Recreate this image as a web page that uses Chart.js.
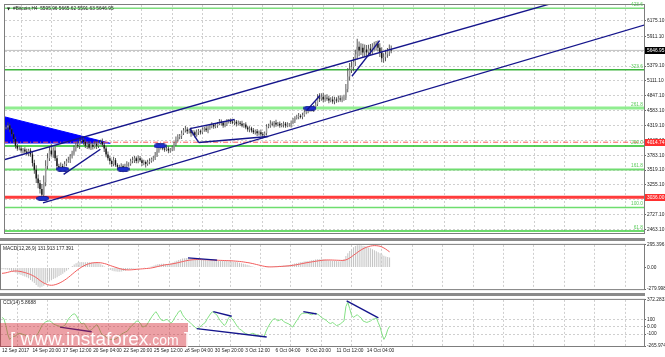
<!DOCTYPE html>
<html><head><meta charset="utf-8"><title>#Bitcoin,H4</title>
<script src="https://cdn.jsdelivr.net/npm/chart.js@4.4.1/dist/chart.umd.min.js"></script>
<style>
html,body{margin:0;padding:0;background:#fff;}
body{position:relative;width:665px;height:357px;overflow:hidden;font-family:"Liberation Sans",Arial,sans-serif;}
canvas{position:absolute;left:0;display:block;}
#cA{top:0}#cB{top:241px}#cC{top:296px}
.sep{position:absolute;left:0;width:645px;height:3px;background:#8a8a8a;}
#wm{position:absolute;left:0;top:323px;width:188px;height:24px;background:rgba(212,45,55,0.45);}
#wmt{position:absolute;left:10px;top:329px;color:rgba(255,255,255,0.95);font-size:19px;line-height:19px;white-space:nowrap;}
</style></head>
<body>
<canvas id="cA" width="665" height="238"></canvas>
<div class="sep" style="top:238px"></div>
<canvas id="cB" width="665" height="52"></canvas>
<div class="sep" style="top:293px"></div>
<canvas id="cC" width="665" height="61"></canvas>
<div id="wm"></div>
<div id="wmt">[ www.instaforex<span style="font-size:14px">.com</span> ]</div>
<script>
// ---------- DATA ----------
const headerText = '#Bitcoin,H4  5595.96 5665.62 5591.63 5646.95';
const macdTitle = 'MACD(12,26,9) 131.913 177.391';
const cciTitle = 'CCI(14) 5.8688';
const xLabels = ['12 Sep 2017','14 Sep 20:00','17 Sep 12:00','20 Sep 04:00','22 Sep 20:00','25 Sep 12:00','28 Sep 04:00','30 Sep 20:00','3 Oct 12:00','6 Oct 04:00','8 Oct 20:00','11 Oct 12:00','14 Oct 04:00'];
const xTickIdx = [0,16,32,48,64,80,96,112,128,144,160,176,192,208,224,240,256,272,288,304,320,336];
const priceTicks = [2463.1,2727.1,2991.1,3255.1,3519.1,3783.1,4047.1,4311.1,4575.1,4839.1,5103.1,5367.1,5631.1,5895.1,6175.1];
const priceTickLabels = ['2463.10','2727.10','2991.10','3255.10','3519.10','3783.10','4047.10','4319.10','4583.10','4847.10','5111.10','5379.10','5646.95','5911.10','6175.10'];
const firstOpen = 4260;
const closes = [
4277,4311,4243,4157,4072,3952,3901,3901,3867,3884,
3850,3815,3867,3798,3644,3525,3371,3285,3183,3080,
3302,3593,3730,3867,3798,3867,3730,3593,3559,3593,
3559,3627,3679,3696,3764,3815,3901,3969,3952,4038,
4055,4020,3952,3986,3918,3969,3935,3986,3952,4003,
4020,3969,3901,3798,3730,3679,3627,3696,3610,3576,
3559,3593,3542,3593,3627,3627,3679,3696,3730,3679,
3730,3696,3644,3662,3627,3662,3679,3713,3730,3781,
3867,3935,3935,3901,3884,3901,3867,3884,3901,3986,
4055,4106,4123,4174,4226,4243,4209,4226,4174,4192,
4140,4192,4209,4192,4243,4260,4226,4277,4294,4328,
4294,4311,4345,4379,4362,4311,4345,4379,4396,4379,
4362,4379,4345,4362,4345,4311,4328,4277,4243,4260,
4226,4192,4209,4174,4192,4157,4140,4174,4294,4311,
4345,4328,4362,4328,4345,4311,4328,4345,4311,4328,
4328,4362,4396,4448,4465,4482,4465,4499,4551,4568,
4585,4619,4602,4636,4687,4807,4790,4824,4773,4807,
4790,4756,4773,4739,4773,4756,4790,4773,4790,4807,
4961,5183,5303,5354,5440,5577,5713,5645,5696,5611,
5662,5611,5679,5645,5713,5730,5765,5696,5611,5508,
5525,5577,5628,5662,5647];
const wickUp = [
40,60,30,20,30,40,30,50,40,30,
40,50,30,40,50,60,80,70,60,90,
120,100,90,80,110,60,70,50,40,60,
40,50,40,60,40,50,60,40,70,50,
60,40,50,30,50,40,30,60,40,50,
40,60,30,40,50,40,30,60,40,30,
40,50,30,40,50,30,40,60,40,30,
50,40,30,40,30,40,50,30,40,60,
50,60,40,30,40,30,40,30,50,40,
60,50,40,50,40,60,40,30,50,40,
30,50,40,30,40,30,50,40,30,40,
30,40,30,50,40,30,40,50,30,40,
30,40,30,40,30,50,30,40,30,40,
30,40,30,40,30,50,40,30,40,30,
60,40,30,50,30,40,30,40,30,40,
30,40,50,30,40,50,30,40,50,40,
50,40,30,40,50,60,80,60,70,50,
60,50,40,60,50,40,50,60,40,50,
90,150,120,100,90,80,140,90,80,70,
90,80,70,80,60,70,50,60,80,90,
70,80,60,90,70];
const wickDn = [
30,40,50,40,60,50,40,30,40,50,
40,30,50,40,60,70,80,90,80,110,
80,70,60,50,40,60,50,70,40,50,
40,60,40,30,50,40,30,50,40,60,
40,50,40,60,30,40,50,30,60,40,
30,40,60,50,40,60,50,40,30,40,
50,40,60,30,40,50,30,40,50,40,
40,30,50,40,60,30,40,30,40,30,
30,40,50,30,40,30,50,40,30,40,
40,30,40,50,30,40,50,40,60,40,
40,30,50,40,30,40,30,50,40,30,
40,30,40,30,50,40,30,40,30,40,
30,40,50,30,40,30,40,30,40,50,
40,30,40,50,40,30,60,50,40,30,
40,30,50,40,30,40,30,50,40,30,
40,50,30,40,30,40,30,40,30,40,
40,30,40,50,40,30,60,40,50,40,
40,50,30,40,50,40,30,40,50,40,
40,60,70,60,80,70,90,100,80,90,
80,90,70,80,60,70,80,60,80,70,
80,70,60,80,50];
const macdMain = [
-20,-22,-25,-28,-35,-45,-55,-65,-75,-85,
-95,-105,-115,-125,-140,-160,-180,-200,-225,-250,
-258,-250,-235,-215,-195,-180,-165,-150,-140,-125,
-110,-95,-80,-60,-40,-20,0,20,40,55,
65,70,72,70,68,70,68,65,66,64,
62,55,45,30,15,0,-15,-30,-40,-48,
-52,-55,-55,-50,-45,-40,-32,-25,-20,-15,
-12,-10,-8,-6,-5,-3,0,5,10,18,
28,38,45,48,50,50,48,48,50,55,
65,78,90,100,110,118,122,125,125,122,
118,115,112,110,105,102,100,98,96,95,
94,93,92,90,90,88,88,86,85,84,
82,80,76,72,68,62,56,50,44,38,
30,22,14,6,0,-6,-10,-12,-8,-2,
4,10,14,18,20,22,24,25,26,28,
30,34,40,46,52,58,64,70,74,78,
82,86,90,94,98,104,108,110,110,108,
104,100,96,92,90,88,86,84,84,86,
110,150,185,215,240,265,280,290,292,290,
285,280,272,262,250,238,226,214,200,185,
170,155,145,138,132];
const macdSignal = [
-75,-72,-68,-62,-55,-50,-46,-44,-45,-48,
-52,-58,-65,-72,-80,-90,-102,-115,-130,-148,
-168,-185,-200,-212,-222,-228,-230,-228,-222,-214,
-204,-192,-178,-162,-145,-126,-106,-85,-64,-44,
-25,-8,8,22,34,44,52,58,62,64,
65,64,62,58,52,45,36,27,18,10,
2,-6,-14,-20,-25,-28,-30,-30,-29,-27,
-25,-22,-20,-18,-16,-14,-12,-10,-7,-3,
2,8,14,20,26,32,36,40,43,46,
50,55,60,66,72,78,84,89,94,98,
101,103,104,105,105,104,103,102,101,100,
99,98,97,96,95,94,93,92,91,90,
89,88,86,84,82,80,77,74,70,66,
62,57,52,46,40,34,28,22,17,13,
10,9,9,10,11,12,14,15,17,19,
21,23,26,29,33,37,42,47,52,57,
62,66,70,74,78,82,86,90,93,96,
98,99,99,99,98,97,96,95,94,93,
95,100,110,125,142,160,178,196,214,230,
244,256,266,274,280,284,286,285,282,277,
268,255,240,222,205];
const cciValues = [
130,110,20,-100,-175,-150,-135,-128,-105,-92,
-95,-105,-112,-140,-175,-192,-170,-140,-120,-90,
-40,17,45,68,78,81,70,38,28,18,
10,-2,5,17,60,110,140,167,180,160,
110,70,38,52,20,-30,-55,-40,-20,10,
29,-15,-80,-115,-128,-150,-165,-175,-172,-178,
-165,-150,-120,-100,-85,-72,-60,-20,5,30,
60,81,72,40,-4,5,17,60,103,145,
180,209,170,124,90,85,95,103,70,50,
81,130,167,210,225,167,130,103,80,60,
30,10,-15,-26,-5,17,40,60,110,150,
190,209,185,167,120,81,50,17,50,110,
145,110,81,40,-4,-30,-47,-70,-90,-100,
-111,-100,-90,-100,-111,-120,-130,-132,-132,-60,
-4,40,81,110,110,81,90,103,80,60,
50,38,15,-4,40,81,120,167,185,188,
190,188,175,167,180,188,175,160,130,115,
100,81,55,45,60,40,17,25,38,60,
81,280,340,252,160,130,150,167,140,124,
81,70,60,70,81,103,110,124,60,-4,
-100,-175,-128,-40,6];
const levelValues = [2436,2854,3530,3948,4625,5301,6395];
const levelLabels = ['61.8','100.0','161.8','200.0','261.8','323.6','423.6'];
const markPrices = [5646.95,4014.74,3036.00];
const mainLines = [
 [-1.05,3701,338.4,6955],
 [19.6,2936,338.4,6101],
 [30.5,3444,50.0,3890],
 [97.4,4257,121.05,4419],
 [102.1,4009,138.9,4116],
 [97.4,4257,102.1,4009],
 [159.5,4590,166.3,4846],
 [183.2,5188,197.9,5821]];
const trianglePts = [-1.2,4470,55.3,3995];
const triangleBase = 3991;
const ellipsePts = [[19.5,3017],[30,3538],[62.1,3538],[81.6,3949],[161,4620]];
const macdTicks = [295.396,0,-279.998];
const macdTickLabels = ['295.396','0.00','-279.998'];
const macdLines = [[97.9,127,113.2,97]];
const cciTicks = [372.2831,100,0,-100,-265.9743];
const cciTickLabels = ['372.2831','100','0.00','-100','-265.9743'];
const cciLines = [[30.5,-4,47.2,-68],[102.5,-26,139.3,-141],[111.2,209,120.9,145],[158.6,209,165.6,176],[181.4,359,198.1,124]];

// ---------- STYLE / BUILD ----------
const FONT = '"Liberation Sans", Arial, sans-serif';
const FS = 4.8;
const X_MIN = -0.53, X_MAX = 337.9;
const GRID = '#cfcfcf';
const BLUE = '#15158c';

function xAxis(showLabels){
  return {
    type:'linear', min:X_MIN, max:X_MAX, offset:false,
    afterBuildTicks: s => { s.ticks = xTickIdx.map(v=>({value:v})); },
    afterFit: s => { s.height = showLabels ? 11 : 0; },
    grid:{ offset:true, color:GRID, lineWidth:1, drawTicks:false },
    border:{ display:false, dash:[2,2] },
    ticks:{ display:showLabels, autoSkip:false, maxRotation:0, minRotation:0, align:'start', padding:2,
      font:{family:FONT, size:FS}, color:'#222',
      callback:(v,i)=> (i < xLabels.length ? xLabels[i] : '') }
  };
}
function yAxis(min,max,ticks,labels,gridColorFn){
  return {
    type:'linear', position:'right', min, max, beginAtZero:false,
    afterBuildTicks: s => { s.ticks = ticks.map(v=>({value:v})); },
    afterFit: s => { s.width = 21; },
    grid:{ color: gridColorFn, lineWidth:1, drawTicks:true, tickLength:2, tickColor:'#666' },
    border:{ display:false, dash:[2,2] },
    ticks:{ autoSkip:false, padding:1, font:{family:FONT, size:FS}, color:'#222',
      callback:(v,i)=> labels[i] }
  };
}
function seg(l, color, width, order, dash){
  return { type:'line', data:[{x:l[0],y:l[1]},{x:l[2],y:l[3]}], borderColor:color, borderWidth:width,
    pointRadius:0, fill:false, order, borderDash:dash||[], tension:0 };
}
const framePlugin = { id:'frame', afterDraw(chart){
  const {ctx, chartArea:a} = chart;
  ctx.save(); ctx.strokeStyle='#7d7d7d'; ctx.lineWidth=1;
  ctx.strokeRect(a.left-0.5, a.top-0.5, a.right-a.left+1, a.bottom-a.top+1);
  ctx.restore();
}};
function titlePlugin(text, dy, arrow){
  return { id:'title_'+dy, afterDraw(chart){
    const {ctx, chartArea:a} = chart;
    ctx.save(); ctx.fillStyle='#222'; ctx.font = FS+'px '+FONT; ctx.textBaseline='middle';
    let x = a.left + 2;
    if (arrow){ ctx.font = '4px "DejaVu Sans"'; ctx.fillText('▼', x, a.top+dy); x += 6; ctx.font = FS+'px '+FONT; }
    ctx.fillText(text, x, a.top+dy);
    ctx.restore();
  }};
}

// ---- main price chart ----
const opens = closes.map((c,i)=> i===0 ? firstOpen : closes[i-1]);
const bodyData = closes.map((c,i)=>({x:i, y:[opens[i], c]}));
const wickData = closes.map((c,i)=>({x:i, y:[Math.min(opens[i],c)-wickDn[i], Math.max(opens[i],c)+wickUp[i]]}));
const bodyColors = closes.map((c,i)=> c >= opens[i] ? '#9a9a9a' : '#141414');

const levelStyles = [['#3ccf3c',1.5],['#6ede6e',1.5],['#70dc70',2],['#22c022',1.5],['#90ee90',3],['#3cb43c',1.5],['#7cdc7c',1.5]];
const markStyles = [['#c0c0c0',1,[]],['#ff5a5a',1,[5,2,1,2]],['#ff3c3c',3,[]]];

const ellipseImg = document.createElement('canvas');
ellipseImg.width = 13; ellipseImg.height = 5;
(function(){ const c = ellipseImg.getContext('2d'); c.fillStyle='#1c2fd0'; c.beginPath(); c.ellipse(6.5,2.5,6.3,2.3,0,0,Math.PI*2); c.fill(); c.strokeStyle='#10107a'; c.lineWidth=0.8; c.stroke(); })();

const mainDatasets = [];
mainDatasets.push({ type:'bar', data:bodyData, backgroundColor:bodyColors, barThickness:1.4, inflateAmount:0, grouped:false, order:1, borderWidth:0 });
mainDatasets.push({ type:'bar', data:wickData, backgroundColor:'#4a4a4a', barThickness:0.9, inflateAmount:0, grouped:false, order:2, borderWidth:0 });
mainLines.forEach(l => mainDatasets.push(seg(l, BLUE, 1.4, -1)));
mainDatasets.push({ type:'line', data:ellipsePts.map(p=>({x:p[0],y:p[1]})), showLine:false, pointStyle:ellipseImg, pointRadius:3, order:0 });
levelValues.forEach((v,k)=> mainDatasets.push(seg([X_MIN-1, v, X_MAX+1, v], levelStyles[k][0], levelStyles[k][1], 5)));
markPrices.forEach((v,k)=> mainDatasets.push(seg([X_MIN-1, v, X_MAX+1, v], markStyles[k][0], markStyles[k][1], 4, markStyles[k][2])));
mainDatasets.push({ type:'line', data:[{x:trianglePts[0],y:trianglePts[1]},{x:trianglePts[2],y:trianglePts[3]}],
  borderColor:'#0000ff', borderWidth:1, backgroundColor:'#0000ff', fill:{value:triangleBase}, pointRadius:0, order:8 });

const mainOverlay = { id:'mainOverlay', afterDraw(chart){
  const {ctx, chartArea:a, scales:{y}} = chart;
  ctx.save();
  ctx.font = FS+'px '+FONT; ctx.textAlign='right'; ctx.textBaseline='bottom'; ctx.fillStyle='#5ccd5c';
  levelValues.forEach((v,k)=>{ const py = y.getPixelForValue(v); ctx.fillText(levelLabels[k], a.right-1, py-1); });
  const boxColors = ['#000000','#ff2f2f','#ff2f2f'];
  ctx.textAlign='left'; ctx.textBaseline='middle';
  markPrices.forEach((p,k)=>{
    const py = y.getPixelForValue(p);
    ctx.fillStyle = boxColors[k]; ctx.fillRect(a.right+1, Math.round(py-3.5), 20, 7);
    ctx.fillStyle = '#fff'; ctx.fillText(p.toFixed(2), a.right+3, py+0.3);
  });
  ctx.restore();
}};

new Chart(document.getElementById('cA'), {
  type:'bar',
  data:{ datasets: mainDatasets },
  options:{
    responsive:false, animation:false, events:[],
    layout:{ padding:{left:1, top:1, right:0, bottom:0} },
    plugins:{ legend:{display:false}, tooltip:{enabled:false} },
    scales:{
      x: xAxis(false),
      y: yAxis(2401.1, 6453.8, priceTicks, priceTickLabels, ()=>GRID)
    }
  },
  plugins:[framePlugin, titlePlugin(headerText, 4, true), mainOverlay]
});

// ---- MACD ----
const macdDatasets = [
  { type:'bar', data: macdMain.map((v,i)=>({x:i,y:v})), backgroundColor:'#c4c4c4', barThickness:1, inflateAmount:0, grouped:false, order:3, borderWidth:0 },
  { type:'line', data: macdSignal.map((v,i)=>({x:i,y:v})), borderColor:'#f25c5c', borderWidth:1, pointRadius:0, order:1, tension:0 }
];
macdLines.forEach(l => macdDatasets.push(seg(l, BLUE, 1.4, 0)));
new Chart(document.getElementById('cB'), {
  type:'bar',
  data:{ datasets: macdDatasets },
  options:{
    responsive:false, animation:false, events:[],
    layout:{ padding:{left:1, top:0, right:0, bottom:0} },
    plugins:{ legend:{display:false}, tooltip:{enabled:false} },
    scales:{ x: xAxis(false), y: yAxis(-279.998, 295.396, macdTicks, macdTickLabels, ()=> 'rgba(0,0,0,0)') }
  },
  plugins:[framePlugin, titlePlugin(macdTitle, 4, false)]
});

// ---- CCI ----
const cciDatasets = [
  { type:'line', data: cciValues.map((v,i)=>({x:i,y:v})), borderColor:'#84e084', borderWidth:1, pointRadius:0, order:2, tension:0 }
];
cciLines.forEach(l => cciDatasets.push(seg(l, BLUE, 1.4, 0)));
new Chart(document.getElementById('cC'), {
  type:'line',
  data:{ datasets: cciDatasets },
  options:{
    responsive:false, animation:false, events:[],
    layout:{ padding:{left:1, top:0, right:0, bottom:0} },
    plugins:{ legend:{display:false}, tooltip:{enabled:false} },
    scales:{ x: xAxis(true), y: yAxis(-265.9743, 372.2831, cciTicks, cciTickLabels,
      c => (c.tick && (c.tick.value===100 || c.tick.value===0 || c.tick.value===-100)) ? GRID : 'rgba(0,0,0,0)') }
  },
  plugins:[framePlugin, titlePlugin(cciTitle, 3, false)]
});
</script>
</body></html>
